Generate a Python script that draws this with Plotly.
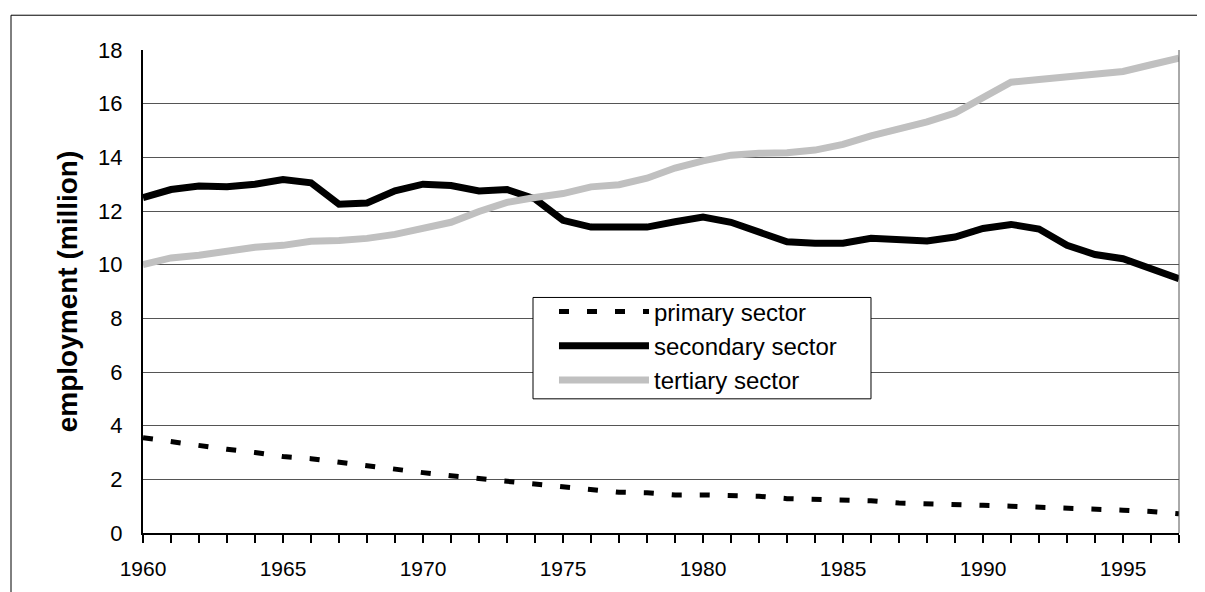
import plotly.graph_objects as go

years = list(range(1960, 1998))

primary = [3.55, 3.40, 3.27, 3.12, 3.00, 2.85, 2.77, 2.63, 2.50, 2.37,
           2.25, 2.13, 2.03, 1.95, 1.85, 1.73, 1.62, 1.52, 1.50, 1.42,
           1.42, 1.40, 1.37, 1.28, 1.25, 1.22, 1.20, 1.12, 1.08, 1.03,
           1.03, 1.00, 0.97, 0.92, 0.88, 0.85, 0.80, 0.72]

secondary = [12.50, 12.80, 12.93, 12.90, 13.00, 13.17, 13.05, 12.25, 12.30, 12.75,
             13.00, 12.95, 12.75, 12.80, 12.45, 11.65, 11.40, 11.43, 11.40, 11.60,
             11.77, 11.58, 11.20, 10.85, 10.80, 10.80, 10.98, 10.90, 10.88, 11.03,
             11.35, 11.50, 11.33, 10.72, 10.38, 10.22, 9.83, 9.48]

tertiary = [10.00, 10.25, 10.35, 10.53, 10.65, 10.72, 10.87, 10.90, 10.98, 11.13,
            11.33, 11.58, 11.98, 12.32, 12.50, 12.65, 12.90, 12.98, 13.22, 13.60,
            13.87, 14.08, 14.15, 14.17, 14.27, 14.48, 14.80, 15.05, 15.32, 15.65,
            16.20, 16.80, 16.90, 17.00, 17.10, 17.20, 17.45, 17.70]

series_names = ["primary sector", "secondary sector", "tertiary sector"]
x_tick_vals = [1960, 1965, 1970, 1975, 1980, 1985, 1990, 1995]
y_tick_vals = [0, 2, 4, 6, 8, 10, 12, 14, 16, 18]

fig = go.Figure()
fig.add_trace(go.Scatter(x=years, y=primary, mode="lines", name=series_names[0],
                         line=dict(color="black", width=5, dash="10px,18px")))
fig.add_trace(go.Scatter(x=years, y=secondary, mode="lines", name=series_names[1],
                         line=dict(color="black", width=7)))
fig.add_trace(go.Scatter(x=years, y=tertiary, mode="lines", name=series_names[2],
                         line=dict(color="#c0c0c0", width=7)))

font_family = "Liberation Sans, Arial, sans-serif"

# page body has an 8px default margin; the figure is sized to fill the rest
fig.update_layout(
    width=1197, height=584,
    margin=dict(l=135, r=26, t=42, b=56),
    paper_bgcolor="white", plot_bgcolor="white",
    font=dict(family=font_family, color="black", size=20),
    showlegend=True,
    legend=dict(x=0.3967, y=0.5041, xanchor="left", yanchor="top",
                bgcolor="rgba(0,0,0,0)", borderwidth=0,
                font=dict(family=font_family, size=24, color="black"),
                itemwidth=90, tracegroupgap=0),
    xaxis=dict(range=[1960, 1997], tickvals=x_tick_vals, ticks="outside",
               ticklen=8, tickwidth=2, tickcolor="black",
               minor=dict(dtick=1, tick0=1960, ticks="outside", ticklen=8,
                          tickwidth=2, tickcolor="black", showgrid=False),
               showline=True, linecolor="black", linewidth=2,
               showgrid=False, zeroline=False,
               tickfont=dict(size=21), ticklabelstandoff=8),
    yaxis=dict(range=[0, 18], tickvals=y_tick_vals, ticks="",
               showline=True, linecolor="black", linewidth=2,
               showgrid=True, gridcolor="#555555", gridwidth=1,
               zeroline=False, tickfont=dict(size=22), ticklabelstandoff=14,
               title=dict(text="<b>employment (million)</b>",
                          font=dict(size=28, family=font_family), standoff=12)),
    shapes=[
        # right edge of plot area
        dict(type="line", xref="x domain", yref="y domain", x0=1, x1=1, y0=0, y1=1,
             line=dict(color="#555555", width=1)),
        # outer frame (top and left edges)
        dict(type="line", xref="paper", yref="paper", x0=-0.12741, x1=1.0222,
             y0=1.0720, y1=1.0720, line=dict(color="black", width=1)),
        dict(type="line", xref="paper", yref="paper", x0=-0.12741, x1=-0.12741,
             y0=-0.2, y1=1.0720, line=dict(color="black", width=1)),
        # legend box
        dict(type="rect", xref="paper", yref="paper", x0=0.37645, x1=0.70270,
             y0=0.27778, y1=0.48765, line=dict(color="black", width=1),
             fillcolor="white", layer="above"),
    ],
)

fig.write_html("out.html")
